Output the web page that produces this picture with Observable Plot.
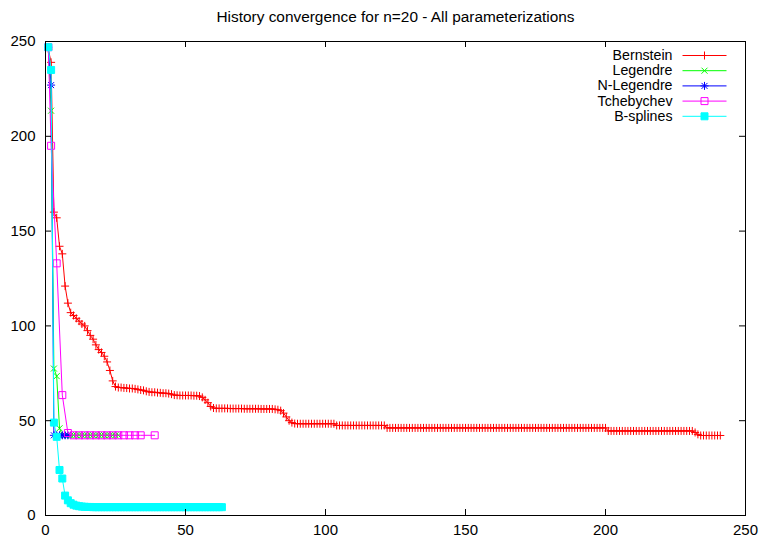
<!DOCTYPE html>
<html><head><meta charset="utf-8">
<script src="https://cdn.jsdelivr.net/npm/d3@7"></script>
<script src="https://cdn.jsdelivr.net/npm/@observablehq/plot@0.6"></script>
<style>html,body{margin:0;padding:0;background:#fff;} svg{display:block}</style>
</head><body><div id="chart"></div>
<script>
const title = "History convergence for n=20 - All parameterizations";
const seriesNames = ["Bernstein", "Legendre", "N-Legendre", "Tchebychev", "B-splines"];
const seriesColors = ["#ff0000", "#00ff00", "#0000ff", "#ff00ff", "#00ffff"];
const xTicks = [0, 50, 100, 150, 200, 250];
const yTicks = [0, 50, 100, 150, 200, 250];

// Bernstein: iterations 1..241
const bernstein = [
  246, 239, 160, 157, 142, 138, 121, 112, 107, 105.5,
  104, 102.5, 101, 100, 97.5, 95, 93, 90, 87.5, 86,
  84, 81, 76.5, 71, 68,
  67.5, 67.5, 67.3, 67.2, 67, 67, 66.8, 66.5, 66.2, 66,
  65.5, 65.2, 65, 65, 64.8, 64.7, 64.5, 64.5, 64.3, 64,
  63.5, 63.4, 63.3, 63.3, 63.3, 63.3, 63.3, 63.2, 63.2, 63,
  62.3, 61, 59.5, 57.5, 56.7,
  56.5, 56.5, 56.5, 56.5, 56.5, 56.4, 56.4, 56.4, 56.4, 56.4,
  56.3, 56.3, 56.3, 56.3, 56.3, 56.3, 56.2, 56.2, 56.2, 56.2,
  56.2, 56, 55.8, 55.3,
  54, 52, 50, 49, 48.5,
  48.4, 48.4, 48.4, 48.4, 48.4, 48.4, 48.4, 48.4, 48.4, 48.4,
  48.4, 48.4, 48.4, 48.4,
  47.5, 47.5, 47.5, 47.5, 47.5, 47.5, 47.5, 47.5, 47.5, 47.5,
  47.5, 47.5, 47.5, 47.5, 47.5, 47.5, 47.5, 47.5,
  46.2, 46.2, 46.2, 46.2, 46.2, 46.2, 46.2, 46.2, 46.2, 46.2,
  46.2, 46.2, 46.2, 46.2, 46.2, 46.2, 46.2, 46.2, 46.2, 46.2,
  46.2, 46.2, 46.2, 46.2, 46.2, 46.2, 46.2, 46.2, 46.2, 46.2,
  46.2, 46.2, 46.2, 46.2, 46.2, 46.2, 46.2, 46.2, 46.2, 46.2,
  46.2, 46.2, 46.2, 46.2, 46.2, 46.2, 46.2, 46.2, 46.2, 46.2,
  46.2, 46.2, 46.2, 46.2, 46.2, 46.2, 46.2, 46.2, 46.2, 46.2,
  46.2, 46.2, 46.2, 46.2, 46.2, 46.2, 46.2, 46.2, 46.2, 46.2,
  46.2, 46.2, 46.2, 46.2, 46.2, 46.2, 46.2, 46.2, 46.2,
  44.6, 44.6, 44.6, 44.6, 44.6, 44.6, 44.6, 44.6, 44.6, 44.6,
  44.6, 44.6, 44.6, 44.6, 44.6, 44.6, 44.6, 44.6, 44.6, 44.6,
  44.6, 44.6, 44.6, 44.6, 44.6, 44.6, 44.6, 44.6, 44.6, 44.6,
  44.6,
  43.8, 42.8,
  42.2, 42.2, 42.2, 42.2, 42.2, 42.2, 42.2, 42.2
];

// Legendre: iterations 1..26
const legendre = [
  247, 213.5, 77.5, 73.5, 46,
  42.3, 42.3, 42.3, 42.3, 42.3, 42.3, 42.3, 42.3, 42.3, 42.3,
  42.3, 42.3, 42.3, 42.3, 42.3, 42.3, 42.3, 42.3, 42.3, 42.3, 42.3
];

// N-Legendre: iterations 1..8
const nLegendre = [247, 227, 42.3, 42.3, 42.3, 42.3, 42.3, 42.3];

// Tchebychev: explicit iteration positions
const tchebychevX = [1, 2, 4, 6, 8, 10, 12, 14, 16, 18, 20, 22, 24, 26, 28, 30, 32, 34, 39];
const tchebychev = [247, 195, 133, 63.5, 43.5, 42.3, 42.3, 42.3, 42.3, 42.3, 42.3, 42.3, 42.3, 42.3, 42.3, 42.3, 42.3, 42.3, 42.3];

// B-splines: iterations 1..63
const bsplines = [
  247, 235, 49, 41.5, 24, 19.5, 10.5, 8, 6.5, 5.7,
  5.2, 4.9, 4.7, 4.6, 4.5, 4.5,
  4.4, 4.4, 4.4, 4.4, 4.4, 4.4, 4.4, 4.4, 4.4, 4.4,
  4.4, 4.4, 4.4, 4.4, 4.4, 4.4, 4.4, 4.4, 4.4, 4.4,
  4.4, 4.4, 4.4, 4.4, 4.4, 4.4, 4.4, 4.4, 4.4, 4.4,
  4.4, 4.4, 4.4, 4.4, 4.4, 4.4, 4.4, 4.4, 4.4, 4.4,
  4.4, 4.4, 4.4, 4.4, 4.4, 4.4, 4.4
];

// gnuplot-like point symbols
const symPlus = {draw(c, s) { const r = Math.sqrt(s / Math.PI); c.moveTo(-r, 0); c.lineTo(r, 0); c.moveTo(0, -r); c.lineTo(0, r); }};
const symCross = {draw(c, s) { const r = Math.sqrt(s / Math.PI) * 0.75; c.moveTo(-r, -r); c.lineTo(r, r); c.moveTo(-r, r); c.lineTo(r, -r); }};
const symStar = {draw(c, s) { symPlus.draw(c, s); symCross.draw(c, s); }};
const symSquare = {draw(c, s) { const r = Math.sqrt(s / Math.PI); c.rect(-r, -r, 2 * r, 2 * r); }};
const symLine = {draw(c, s) { const r = Math.sqrt(s / Math.PI); c.moveTo(-r, 0); c.lineTo(r, 0); }};

const seriesData = [
  bernstein.map((y, i) => ({x: i + 1, y})),
  legendre.map((y, i) => ({x: i + 1, y})),
  nLegendre.map((y, i) => ({x: i + 1, y})),
  tchebychev.map((y, i) => ({x: tchebychevX[i], y})),
  bsplines.map((y, i) => ({x: i + 1, y}))
];
const seriesSymbols = [symPlus, symCross, symStar, symSquare, symSquare];
const seriesR = [4, 4, 4, 3.5, 3.5];
const seriesFilled = [false, false, false, false, true];

const W = 759, H = 540, mL = 45, mR = 14, mT = 41, mB = 25;
const fw = W - mL - mR, fh = H - mT - mB, tick = 6;

const marks = [];
seriesData.forEach((data, i) => {
  marks.push(Plot.line(data, {x: "x", y: "y", stroke: seriesColors[i], strokeWidth: 1}));
  marks.push(Plot.dot(data, {x: "x", y: "y", symbol: seriesSymbols[i], r: seriesR[i],
    stroke: seriesColors[i], fill: seriesFilled[i] ? seriesColors[i] : "none", strokeWidth: 1}));
});

// legend
seriesNames.forEach((name, i) => {
  const dy = 14 + 15.2 * i;
  marks.push(Plot.text([name], {text: d => d, frameAnchor: "top-right", dx: -73, dy, textAnchor: "end", lineAnchor: "middle", fontSize: 14.2, fill: "black"}));
  marks.push(Plot.dot([name], {frameAnchor: "top-right", dx: -41, dy, symbol: symLine, r: 22, stroke: seriesColors[i], fill: "none", strokeWidth: 1}));
  marks.push(Plot.dot([name], {frameAnchor: "top-right", dx: -41, dy, symbol: seriesSymbols[i], r: seriesR[i], stroke: seriesColors[i], fill: seriesFilled[i] ? seriesColors[i] : "none", strokeWidth: 1}));
});

// inward ticks on all four sides (gnuplot style)
marks.push(Plot.tickY(yTicks, {y: d => d, insetRight: fw - tick, stroke: "black"}));
marks.push(Plot.tickY(yTicks, {y: d => d, insetLeft: fw - tick, stroke: "black"}));
marks.push(Plot.tickX(xTicks, {x: d => d, insetTop: fh - tick, stroke: "black"}));
marks.push(Plot.tickX(xTicks, {x: d => d, insetBottom: fh - tick, stroke: "black"}));
marks.push(Plot.axisX(xTicks, {tickSize: 0, tickPadding: 9, fontSize: 15, label: null}));
marks.push(Plot.axisY(yTicks, {tickSize: 0, tickPadding: 10, fontSize: 15, label: null}));
marks.push(Plot.frame({stroke: "black"}));
marks.push(Plot.text([title], {text: d => d, frameAnchor: "top", dy: -24, lineAnchor: "middle", fontSize: 15.4, fill: "black"}));

const chart = Plot.plot({
  width: W, height: H,
  marginLeft: mL, marginRight: mR, marginTop: mT, marginBottom: mB,
  style: {fontFamily: "'Liberation Sans', Arial, sans-serif", fontSize: "15px", color: "black", background: "white"},
  x: {domain: [0, 250]},
  y: {domain: [0, 250]},
  marks
});
document.getElementById("chart").appendChild(chart);
</script>
</body></html>
